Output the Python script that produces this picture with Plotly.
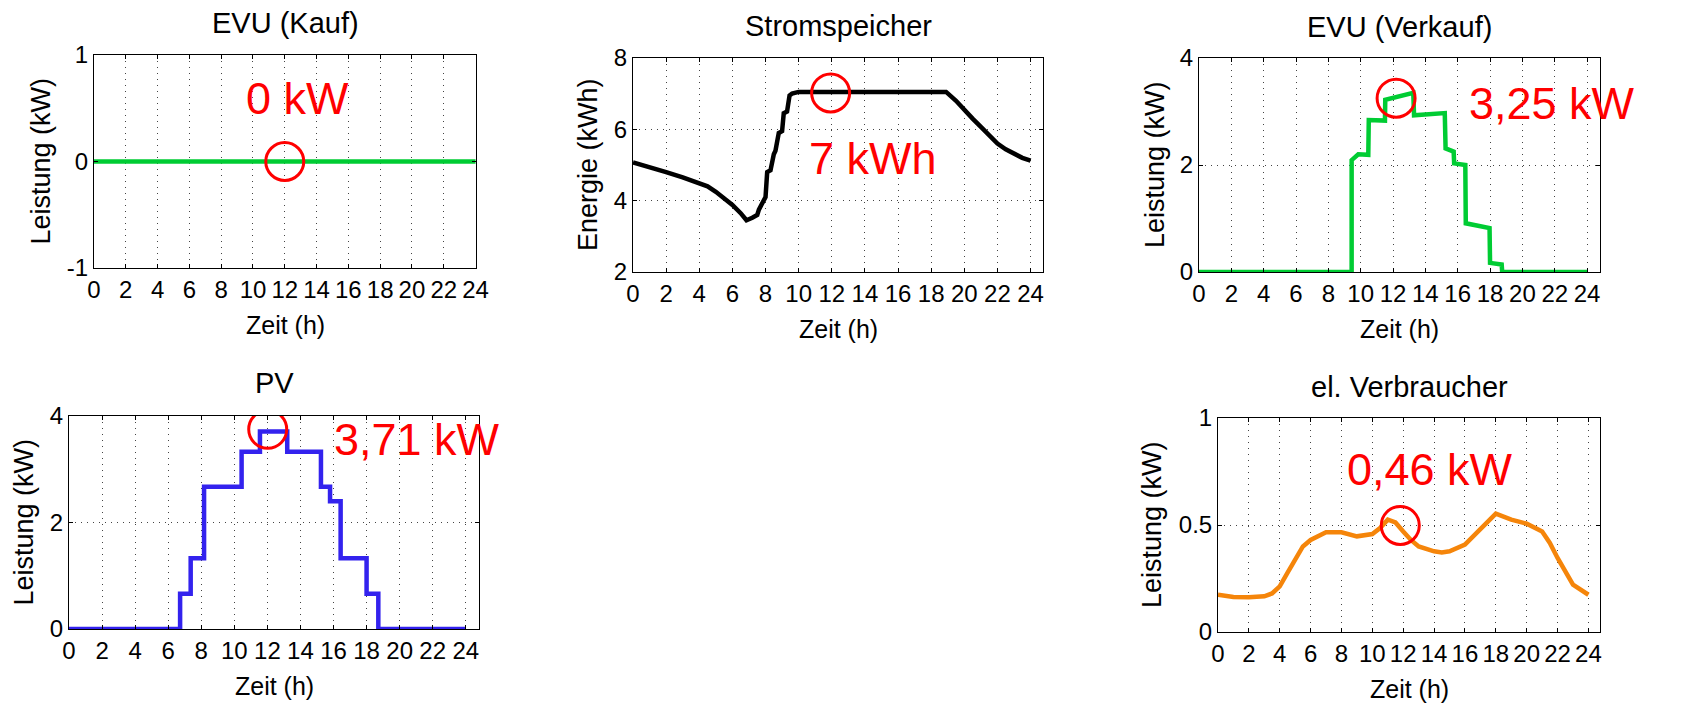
import plotly.graph_objects as go

# page body has an 8px margin; the figure is placed after that offset
OFF = 8
W, H = 1694 - OFF, 704 - OFF

# ---------------- data ----------------
kauf_t = [0, 24]
kauf_p = [0, 0]

speicher_t = [0, 1, 2, 3, 4, 4.5, 5, 5.5, 6, 6.5, 6.85, 7.2, 7.5, 7.6, 7.8, 8.0, 8.1, 8.3, 8.5, 8.6, 8.8, 9.0, 9.1, 9.3,
              9.45, 9.6, 10.0, 12, 14, 16, 18, 18.9, 19.5, 20, 20.5, 21, 21.5, 22, 22.5, 23, 23.5, 24]
speicher_e = [5.07, 4.95, 4.8, 4.65, 4.5, 4.4, 4.25, 4.08, 3.88, 3.65, 3.45, 3.52, 3.6, 3.75, 3.95, 4.1, 4.8, 4.85, 5.3,
              5.4, 5.9, 5.95, 6.45, 6.5, 6.95, 7.0, 7.05, 7.05, 7.05, 7.05, 7.05, 7.05, 6.8, 6.54, 6.3, 6.07, 5.82, 5.6,
              5.44, 5.31, 5.2, 5.12]

verkauf_t = [0, 9.44, 9.44, 9.85, 10.47, 10.5, 11.5, 11.52, 13.25, 13.3, 15.2, 15.25, 15.75, 15.78, 16.47, 16.5, 17.97,
             18.0, 18.72, 18.75, 24]
verkauf_p = [0, 0, 2.09, 2.2, 2.19, 2.84, 2.83, 3.22, 3.35, 2.93, 2.97, 2.31, 2.25, 2.03, 2.0, 0.91, 0.82, 0.17, 0.14, 0,
             0]

pv_t = [0, 6.72, 7.36, 8.17, 10.44, 11.55, 13.2, 15.24, 15.79, 16.43, 18.0, 18.71, 24]
pv_p = [0, 0.66, 1.33, 2.67, 3.33, 3.71, 3.33, 2.67, 2.4, 1.33, 0.66, 0, 0]

last_t = [0, 1, 2, 3, 3.5, 4, 4.5, 5, 5.5, 6, 6.5, 7, 8, 9, 10, 10.5, 11, 11.5, 12, 12.5, 13, 14, 14.5, 15, 16, 17, 17.5,
          18, 19, 20, 21, 21.5, 22, 22.5, 23, 24]
last_p = [0.174, 0.164, 0.162, 0.167, 0.18, 0.213, 0.276, 0.338, 0.40, 0.43, 0.447, 0.466, 0.466, 0.447, 0.458, 0.486,
          0.525, 0.512, 0.47, 0.43, 0.40, 0.377, 0.372, 0.377, 0.408, 0.478, 0.517, 0.553, 0.525, 0.506, 0.47, 0.416,
          0.346, 0.283, 0.221, 0.174]

x_ticks = list(range(0, 25, 2))

titles = ["EVU (Kauf)", "Stromspeicher", "EVU (Verkauf)", "PV", "el. Verbraucher"]
y_titles = ["Leistung (kW)", "Energie (kWh)", "Leistung (kW)", "Leistung (kW)", "Leistung (kW)"]
labels = ["0 kW", "7 kWh", "3,25 kW", "3,71 kW", "0,46 kW"]
circle_pts = [(12.0, 0.0), (11.93, 7.02), (12.19, 3.25), (12.02, 3.75), (11.81, 0.498)]
label_pts = [(12.8, 0.59), (14.5, 5.19), (21.84, 3.15), (21.03, 3.55), (13.76, 0.76)]

# ---------------- layout helpers ----------------
# pixel boxes in the window: left, right, top, bottom
boxes = [(94, 476, 55, 268), (633, 1043, 58, 272), (1199, 1600, 58, 272),
         (69, 479, 416, 629), (1218, 1600, 418, 632)]
x_ranges = [[0, 24.03], [0, 24.75], [0, 24.8], [0, 24.8], [0, 24.75]]
y_ranges = [[-1, 1], [2, 8], [0, 4], [0, 4], [0, 1]]
y_tickvals = [[-1, 0, 1], [2, 4, 6, 8], [0, 2, 4], [0, 2, 4], [0, 0.5, 1]]
y_ticktext = [["-1", "0", "1"], ["2", "4", "6", "8"], ["0", "2", "4"], ["0", "2", "4"], ["0", "0.5", "1"]]
ytitle_x = [40, 588, 1155, 23, 1152]
title_y = [23, 26, 27, 383, 387]
line_shapes = ["linear", "linear", "linear", "hv", "linear"]

series = [(kauf_t, kauf_p, "#00CC33"), (speicher_t, speicher_e, "#000000"), (verkauf_t, verkauf_p, "#00CC33"),
          (pv_t, pv_p, "#3322EE"), (last_t, last_p, "#F5850A")]


def px(x):
    return (x - OFF) / W


def py(y):
    return 1 - (y - OFF) / H


FONT = "Liberation Sans, Arial, sans-serif"
fig = go.Figure()
annotations = []
shapes = []

for i in range(5):
    l, r, t, b = boxes[i]
    xa = "xaxis" if i == 0 else f"xaxis{i+1}"
    ya = "yaxis" if i == 0 else f"yaxis{i+1}"
    xr = "x" if i == 0 else f"x{i+1}"
    yr = "y" if i == 0 else f"y{i+1}"
    xs, ys, col = series[i]
    fig.add_trace(go.Scatter(x=xs, y=ys, mode="lines", line=dict(color=col, width=4.5, shape=line_shapes[i]),
                             xaxis=xr, yaxis=yr, showlegend=False, hoverinfo="x+y"))
    common = dict(showline=True, linecolor="black", linewidth=1, mirror="ticks", ticks="inside", ticklen=4,
                  tickcolor="black", showgrid=True, gridcolor="#444444", gridwidth=1, griddash="1px,5px",
                  zeroline=False, automargin=False, tickfont=dict(family=FONT, size=24, color="black"))
    fig.layout[xa] = dict(domain=[px(l), px(r)], anchor=yr, range=x_ranges[i], tickvals=x_ticks,
                          ticktext=[str(v) for v in x_ticks], **common)
    fig.layout[ya] = dict(domain=[py(b), py(t)], anchor=xr, range=y_ranges[i], tickvals=y_tickvals[i],
                          ticktext=y_ticktext[i], **common)
    # title
    annotations.append(dict(text=titles[i], xref="paper", yref="paper", x=px((l + r) / 2), y=py(title_y[i]),
                            xanchor="center", yanchor="middle", showarrow=False,
                            font=dict(family=FONT, size=29, color="black")))
    # x title
    annotations.append(dict(text="Zeit (h)", xref="paper", yref="paper", x=px((l + r) / 2), y=py(b + 57),
                            xanchor="center", yanchor="middle", showarrow=False,
                            font=dict(family=FONT, size=25, color="black")))
    # y title
    annotations.append(dict(text=y_titles[i], xref="paper", yref="paper", x=px(ytitle_x[i]), y=py((t + b) / 2),
                            xanchor="center", yanchor="middle", showarrow=False, textangle=-90,
                            font=dict(family=FONT, size=27, color="black")))
    # red label
    lx, ly = label_pts[i]
    annotations.append(dict(text=labels[i], xref=xr, yref=yr, x=lx, y=ly, xanchor="center", yanchor="middle",
                            showarrow=False, font=dict(family=FONT, size=45, color="#FF0000")))
    # red circle
    cx, cy = circle_pts[i]
    shapes.append(dict(type="circle", xref=xr, yref=yr, xsizemode="pixel", ysizemode="pixel",
                       xanchor=cx, yanchor=cy, x0=-19, x1=19, y0=-19, y1=19,
                       line=dict(color="#FF0000", width=3)))

fig.update_layout(template="none", width=W, height=H,
                  margin=dict(l=0, r=0, t=0, b=0, pad=0, autoexpand=False),
                  paper_bgcolor="white", plot_bgcolor="white", showlegend=False,
                  annotations=annotations, shapes=shapes)

fig.write_html("out.html")
